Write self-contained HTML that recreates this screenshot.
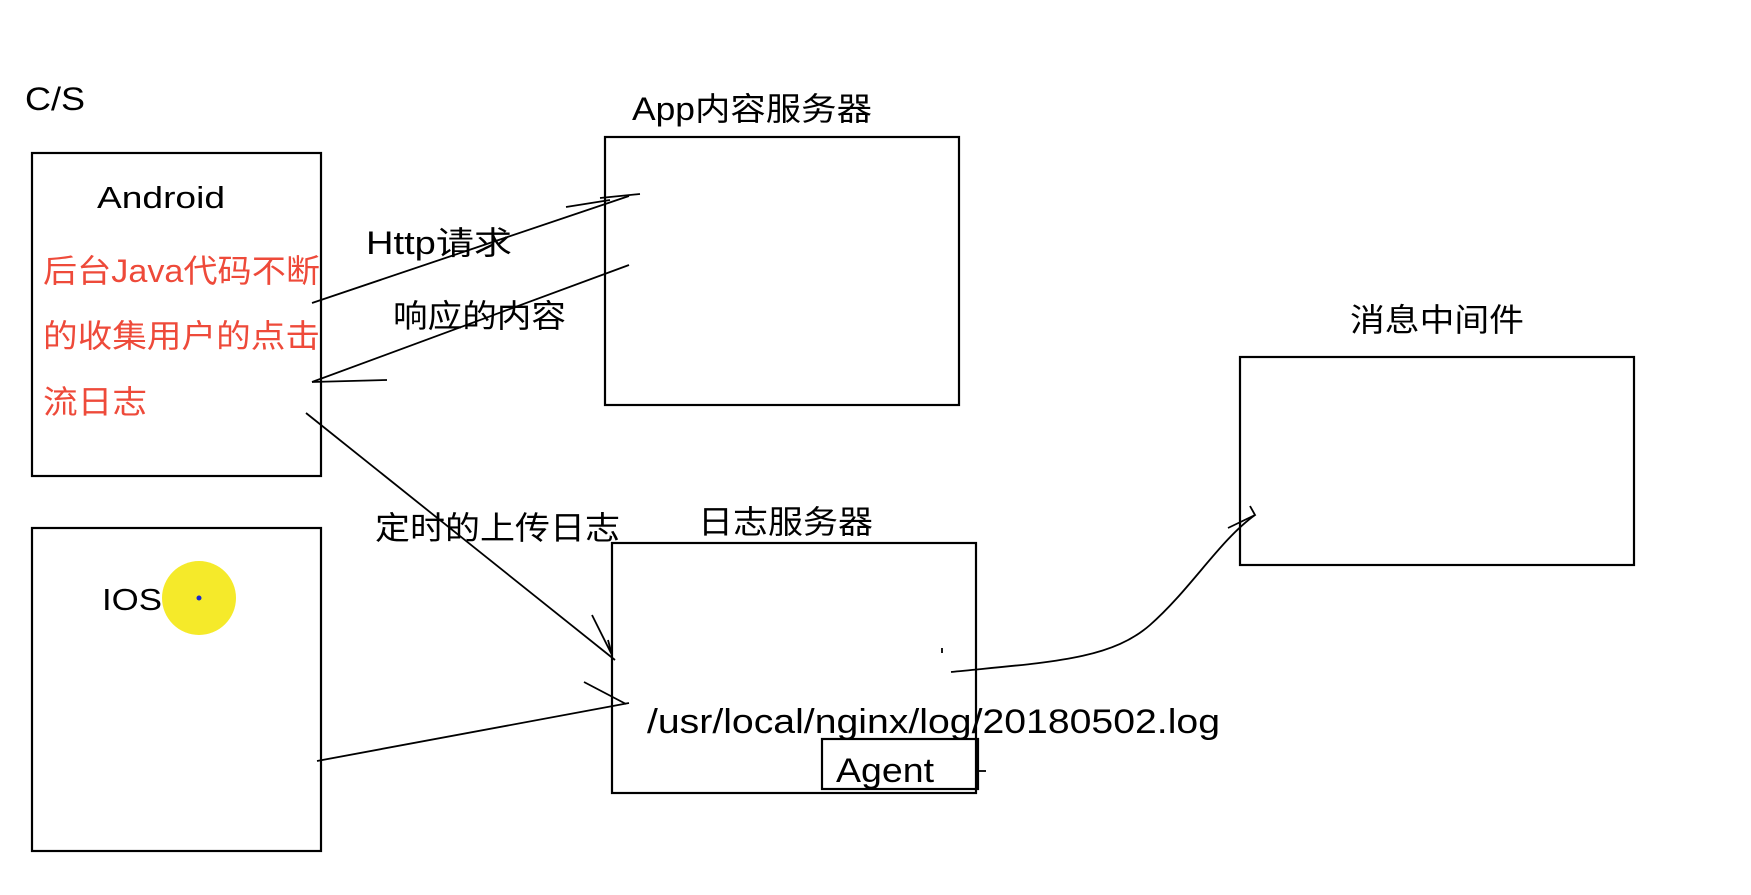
<!DOCTYPE html>
<html><head><meta charset="utf-8"><style>html,body{margin:0;padding:0;background:#fff}svg{display:block}</style></head>
<body>
<svg width="1751" height="895" viewBox="0 0 1751 895" xmlns="http://www.w3.org/2000/svg" font-family="Liberation Sans, Noto Sans CJK SC, sans-serif">
<rect width="1751" height="895" fill="#fff"/>
<g fill="none" stroke="#000" stroke-width="2.2">
<rect x="32" y="153" width="289" height="323"/>
<rect x="32" y="528" width="289" height="323"/>
<rect x="605" y="137" width="354" height="268"/>
<rect x="612" y="543" width="364" height="250"/>
<rect x="822" y="739" width="156" height="50"/>
<rect x="1240" y="357" width="394" height="208"/>
</g>
<g fill="none" stroke="#000" stroke-width="1.8">
<path d="M312 303 L629 196"/><path d="M566 207 L610 200 M600 198 L640 194"/>
<path d="M629 265 L312 382"/><path d="M312 382 L387 380"/>
<path d="M306 413 L615 660"/><path d="M592 615 L612 655 L608 640"/>
<path d="M317 761 L629 703"/><path d="M584 682 L626 704"/>
<path d="M951 672 C1050 662 1110 660 1150 625 C1190 590 1220 540 1255 515"/><path d="M1228 528 L1255 515 L1250 506"/>
<path d="M942 648 L942 653"/><path d="M977 771 L986 771"/>
</g>
<circle cx="199" cy="598" r="37" fill="#f5ea2a"/>
<circle cx="199" cy="598" r="2.5" fill="#1a2ad0"/>
<g font-size="32" fill="#000">
<text x="25" y="110" textLength="60" lengthAdjust="spacingAndGlyphs">C/S</text>
<text x="97" y="208" font-size="31" textLength="128" lengthAdjust="spacingAndGlyphs">Android</text>
<text x="632" y="120" font-size="32" textLength="240" lengthAdjust="spacingAndGlyphs">App内容服务器</text>
<text x="366" y="254" font-size="32" textLength="146" lengthAdjust="spacingAndGlyphs">Http请求</text>
<text x="393" y="327" font-size="32" textLength="173" lengthAdjust="spacingAndGlyphs">响应的内容</text>
<text x="1350" y="331" font-size="32" textLength="174" lengthAdjust="spacingAndGlyphs">消息中间件</text>
<text x="375" y="539" font-size="32" textLength="245" lengthAdjust="spacingAndGlyphs">定时的上传日志</text>
<text x="698" y="533" font-size="32" textLength="175" lengthAdjust="spacingAndGlyphs">日志服务器</text>
<text x="102" y="610" font-size="31" textLength="60" lengthAdjust="spacingAndGlyphs">IOS</text>
<text x="647" y="733" font-size="34" textLength="573" lengthAdjust="spacingAndGlyphs">/usr/local/nginx/log/20180502.log</text>
<text x="836" y="782" font-size="34" textLength="98" lengthAdjust="spacingAndGlyphs">Agent</text>
</g>
<g font-size="32" fill="#ee4a3a">
<text x="43" y="282" textLength="277" lengthAdjust="spacingAndGlyphs">后台Java代码不断</text>
<text x="43" y="347" textLength="277" lengthAdjust="spacingAndGlyphs">的收集用户的点击</text>
<text x="43" y="413" textLength="104" lengthAdjust="spacingAndGlyphs">流日志</text>
</g>
</svg>
</body></html>
